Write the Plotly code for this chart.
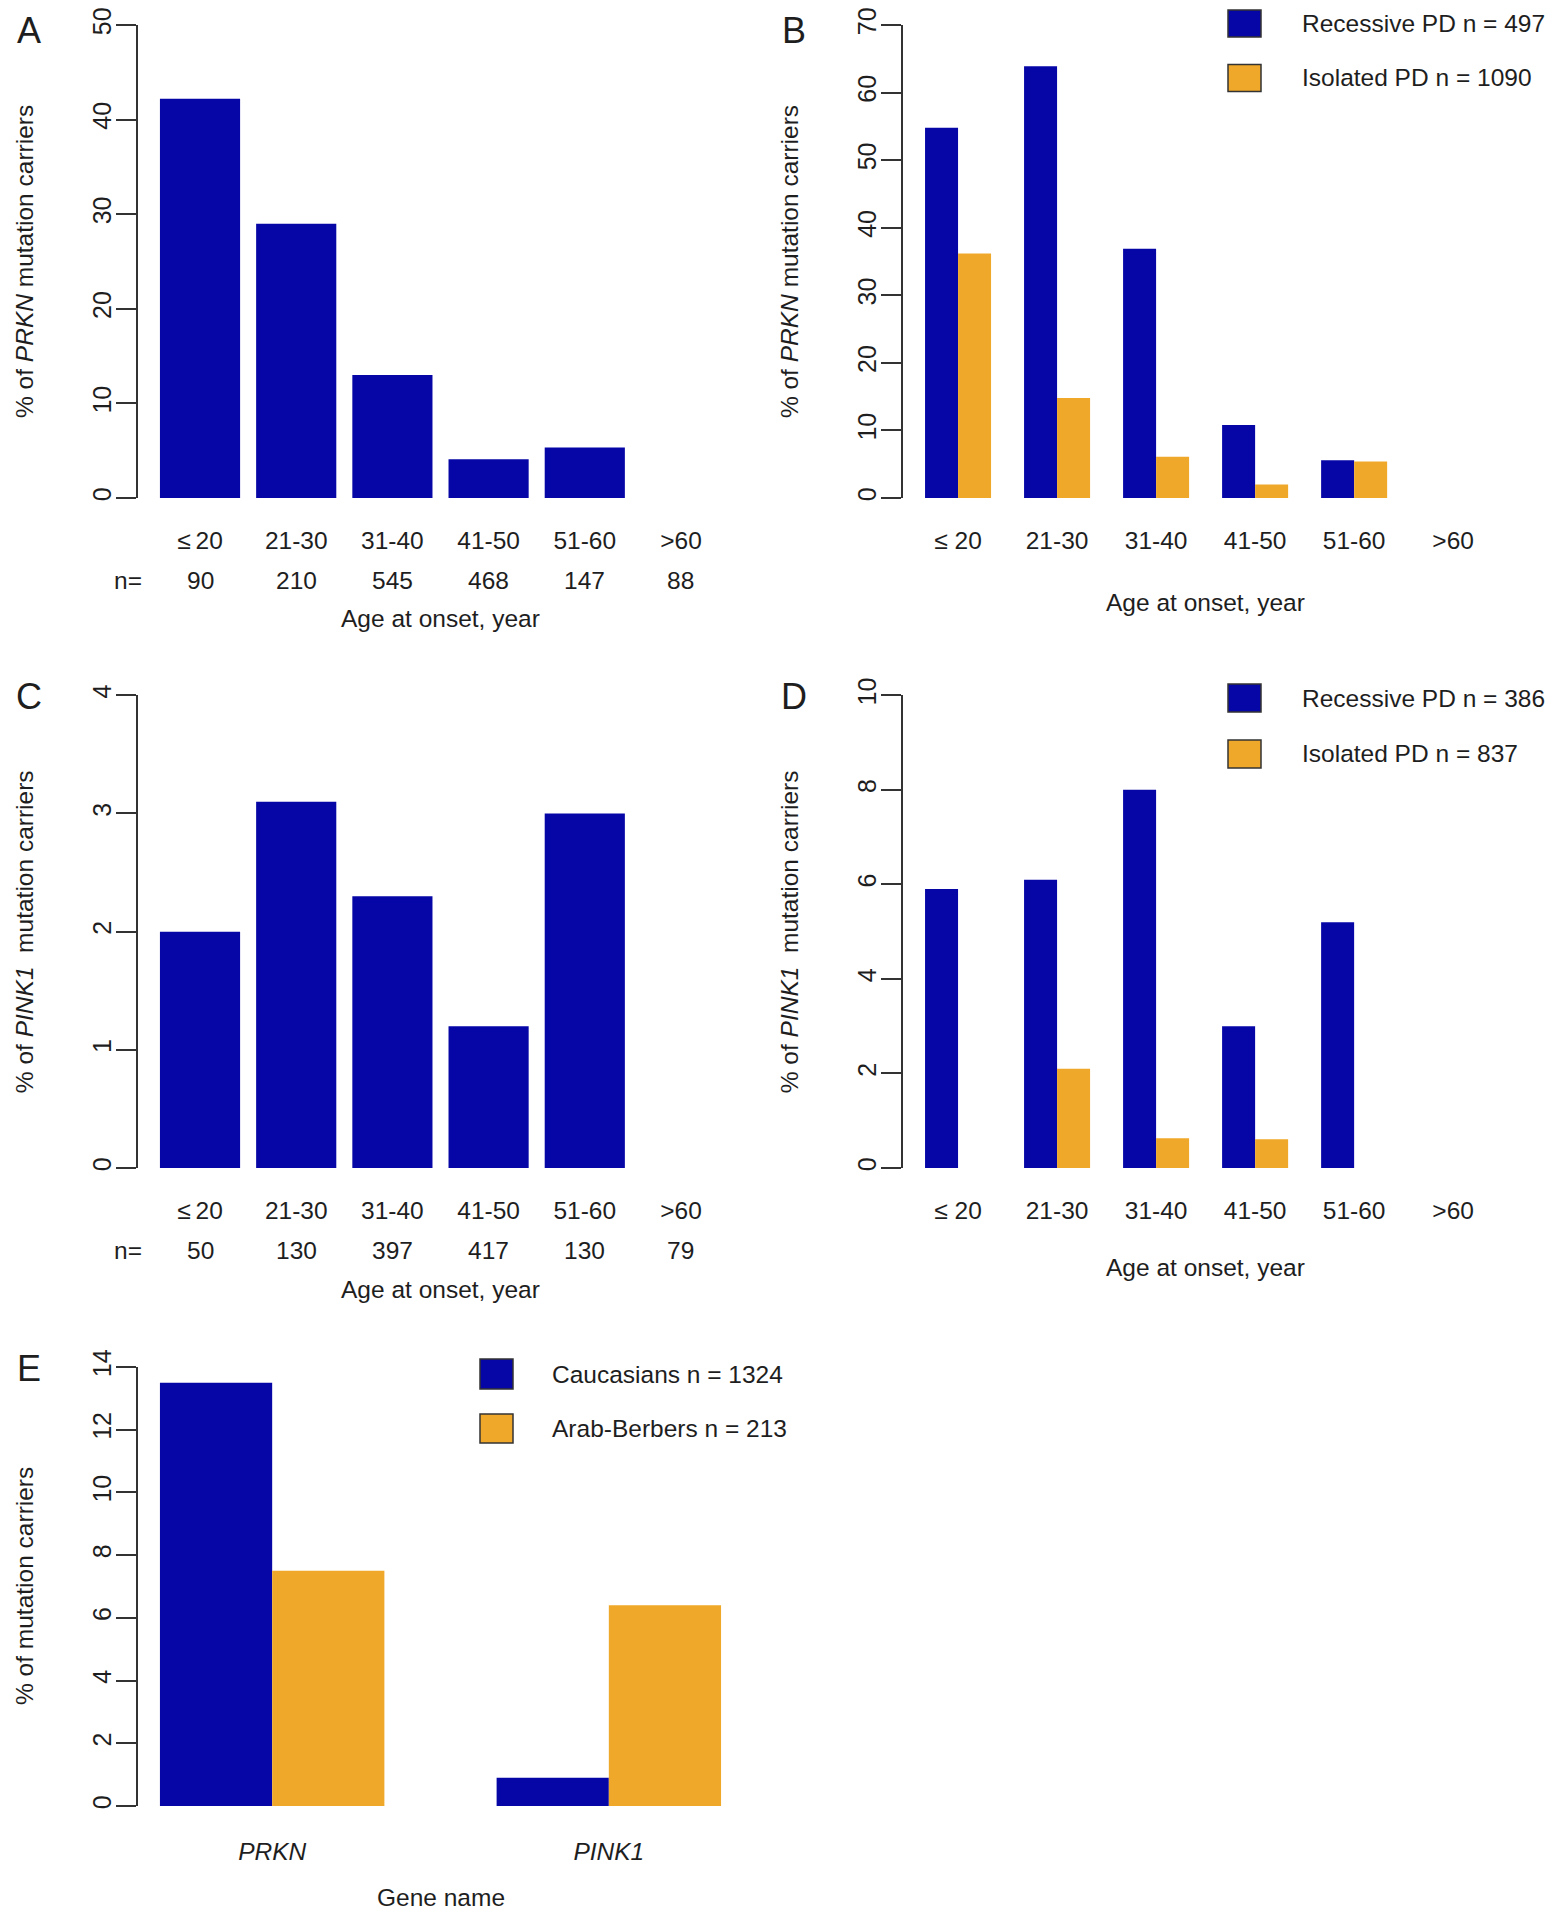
import plotly.graph_objects as go

# age-at-onset bins
ages_ac = ["≤\u200920", "21-30", "31-40", "41-50", "51-60", ">60"]
ages_bd = ["≤ 20", "21-30", "31-40", "41-50", "51-60", ">60"]

# A: PRKN carriers, whole cohort
prkn_all = [42.2, 29.0, 13.0, 4.1, 5.35, 0]
prkn_n = ["90", "210", "545", "468", "147", "88"]
# B: PRKN by family history
prkn_rec = [54.8, 63.9, 36.9, 10.8, 5.6, 0]
prkn_iso = [36.2, 14.8, 6.1, 2.0, 5.4, 0]
# C: PINK1 carriers, whole cohort
pink1_all = [2.0, 3.1, 2.3, 1.2, 3.0, 0]
pink1_n = ["50", "130", "397", "417", "130", "79"]
# D: PINK1 by family history
pink1_rec = [5.9, 6.1, 8.0, 3.0, 5.2, 0]
pink1_iso = [0, 2.1, 0.63, 0.61, 0, 0]
# E: by ethnicity
genes = ["PRKN", "PINK1"]
cauc = [13.5, 0.9]
arab = [7.5, 6.4]

legend_b = ["Recessive PD n = 497", "Isolated PD n = 1090"]
legend_d = ["Recessive PD n = 386", "Isolated PD n = 837"]
legend_e = ["Caucasians n = 1324", "Arab-Berbers n = 213"]

BLUE = "#0606a6"
ORANGE = "#f0a82a"
INK = "#1e1e1e"
FONT = "Liberation Sans, Arial, sans-serif"
FS = 24.5

# page body has an 8px margin, so the figure is a bit smaller than the window
OFF = 8
W, H = 1554 - 2 * OFF, 1920 - 2 * OFF


def px(x):
    return (x - OFF) / W


def py(y):
    return 1 - (y - OFF) / H


# panel boxes in window pixels: left, right, top, bottom
panels = {
    "A": (137.5, 743.5, 25, 498),
    "B": (902.6, 1508.6, 25, 498),
    "C": (137.5, 743.5, 695.3, 1168),
    "D": (902.6, 1508.6, 695.3, 1168),
    "E": (137.5, 743.5, 1367, 1806),
}

fig = go.Figure()


def bar(x, y, color, ax, width, offset=None):
    fig.add_trace(go.Bar(x=x, y=y, xaxis="x" + ax, yaxis="y" + ax,
                         marker=dict(color=color, line=dict(width=0)),
                         width=width, offset=offset, showlegend=False,
                         hoverinfo="x+y"))


bar(ages_ac, prkn_all, BLUE, "", 1 / 1.2)
bar(ages_bd, prkn_rec, BLUE, "2", 1 / 3, -1 / 3)
bar(ages_bd, prkn_iso, ORANGE, "2", 1 / 3, 0)
bar(ages_ac, pink1_all, BLUE, "3", 1 / 1.2)
bar(ages_bd, pink1_rec, BLUE, "4", 1 / 3, -1 / 3)
bar(ages_bd, pink1_iso, ORANGE, "4", 1 / 3, 0)
bar(genes, cauc, BLUE, "5", 1 / 3, -1 / 3)
bar(genes, arab, ORANGE, "5", 1 / 3, 0)

yspec = {"A": (50, 10), "B": (70, 10), "C": (4, 1), "D": (10, 2), "E": (14, 2)}
xrange = {"A": [-0.65, 5.65], "B": [-0.56, 5.56], "C": [-0.65, 5.65],
          "D": [-0.56, 5.56], "E": [-0.4, 1.4]}

layout = {}
for i, key in enumerate("ABCDE"):
    l, r, t, b = panels[key]
    suffix = "" if i == 0 else str(i + 1)
    xa = dict(domain=[px(l), px(r)], anchor="y" + suffix, range=xrange[key],
              type="category", showline=False, ticks="", showgrid=False,
              zeroline=False, ticklabelstandoff=25, automargin=False,
              ticklabeloverflow="allow",
              tickfont=dict(size=FS, color=INK, family=FONT))
    if key == "E":
        xa.update(tickvals=genes, ticktext=["<i>%s</i>" % g for g in genes],
                  ticklabelstandoff=28)
    ya = dict(domain=[py(b), py(t)], anchor="x" + suffix, range=[0, yspec[key][0]],
              tickmode="linear", tick0=0, dtick=yspec[key][1],
              showline=True, linecolor="#333", linewidth=2,
              ticks="outside", ticklen=20, tickwidth=2, tickcolor="#333",
              tickangle=-90, ticklabelstandoff=-5, showgrid=False, zeroline=False,
              automargin=False, ticklabeloverflow="allow",
              tickfont=dict(size=25, color=INK, family=FONT))
    layout["xaxis" + suffix] = xa
    layout["yaxis" + suffix] = ya

ann = []


def text(x, y, s, size=FS, **kw):
    d = dict(x=x, y=y, xref="paper", yref="paper", text=s, showarrow=False,
             xanchor="center", yanchor="middle",
             font=dict(size=size, color=INK, family=FONT))
    d.update(kw)
    ann.append(d)


# panel letters (the top row hangs from the figure edge so it is not clipped)
for key in "ABCDE":
    l, r, t, b = panels[key]
    if key in "AB":
        text(px(l - 109), 1, key, size=36, yanchor="top")
    else:
        text(px(l - 109), py(t + 1.5), key, size=36)

# y-axis titles
ytitles = {"A": "% of <i>PRKN</i> mutation carriers",
           "B": "% of <i>PRKN</i> mutation carriers",
           "C": "% of <i>PINK1</i>  mutation carriers",
           "D": "% of <i>PINK1</i>  mutation carriers",
           "E": "% of mutation carriers"}
for key, s in ytitles.items():
    l, r, t, b = panels[key]
    text(px(l - 113), py((t + b) / 2), s, textangle=-90)

# n= rows under A and C
for key, ns, xname in (("A", prkn_n, "x"), ("C", pink1_n, "x3")):
    l, r, t, b = panels[key]
    text(px(128), py(b + 82.5), "n=")
    for j, n in enumerate(ns):
        ann.append(dict(x=j, y=py(b + 82.5), xref=xname, yref="paper", text=n,
                        showarrow=False, xanchor="center", yanchor="middle",
                        font=dict(size=FS, color=INK, family=FONT)))

# x-axis titles
xtitles = {"A": ("Age at onset, year", 120), "B": ("Age at onset, year", 104.5),
           "C": ("Age at onset, year", 121.5), "D": ("Age at onset, year", 99.5),
           "E": ("Gene name", 91)}
for key, (s, off) in xtitles.items():
    l, r, t, b = panels[key]
    text(px((l + r) / 2), py(b + off), s)

# legends drawn as boxes + labels
shapes = []
legends = [
    (legend_b, 1228, 1300, [(10, 37), (64.5, 91.5)]),
    (legend_d, 1228, 1300, [(684, 712), (740, 768)]),
    (legend_e, 480, 550, [(1359, 1389), (1414, 1443)]),
]
for labels, bx, tx, rows in legends:
    for lab, col, (y0, y1) in zip(labels, [BLUE, ORANGE], rows):
        shapes.append(dict(type="rect", xref="paper", yref="paper",
                           x0=px(bx), x1=px(bx + 33), y0=py(y1), y1=py(y0),
                           fillcolor=col, line=dict(color="#333", width=1.5)))
        text(px(tx), py((y0 + y1) / 2), lab, xanchor="left")

fig.update_layout(**layout)
fig.update_layout(width=W, height=H, margin=dict(l=0, r=0, t=0, b=0, autoexpand=False),
                  paper_bgcolor="white", plot_bgcolor="white",
                  annotations=ann, shapes=shapes, showlegend=False,
                  barmode="overlay", font=dict(family=FONT, color=INK))

fig.write_html("out.html")
